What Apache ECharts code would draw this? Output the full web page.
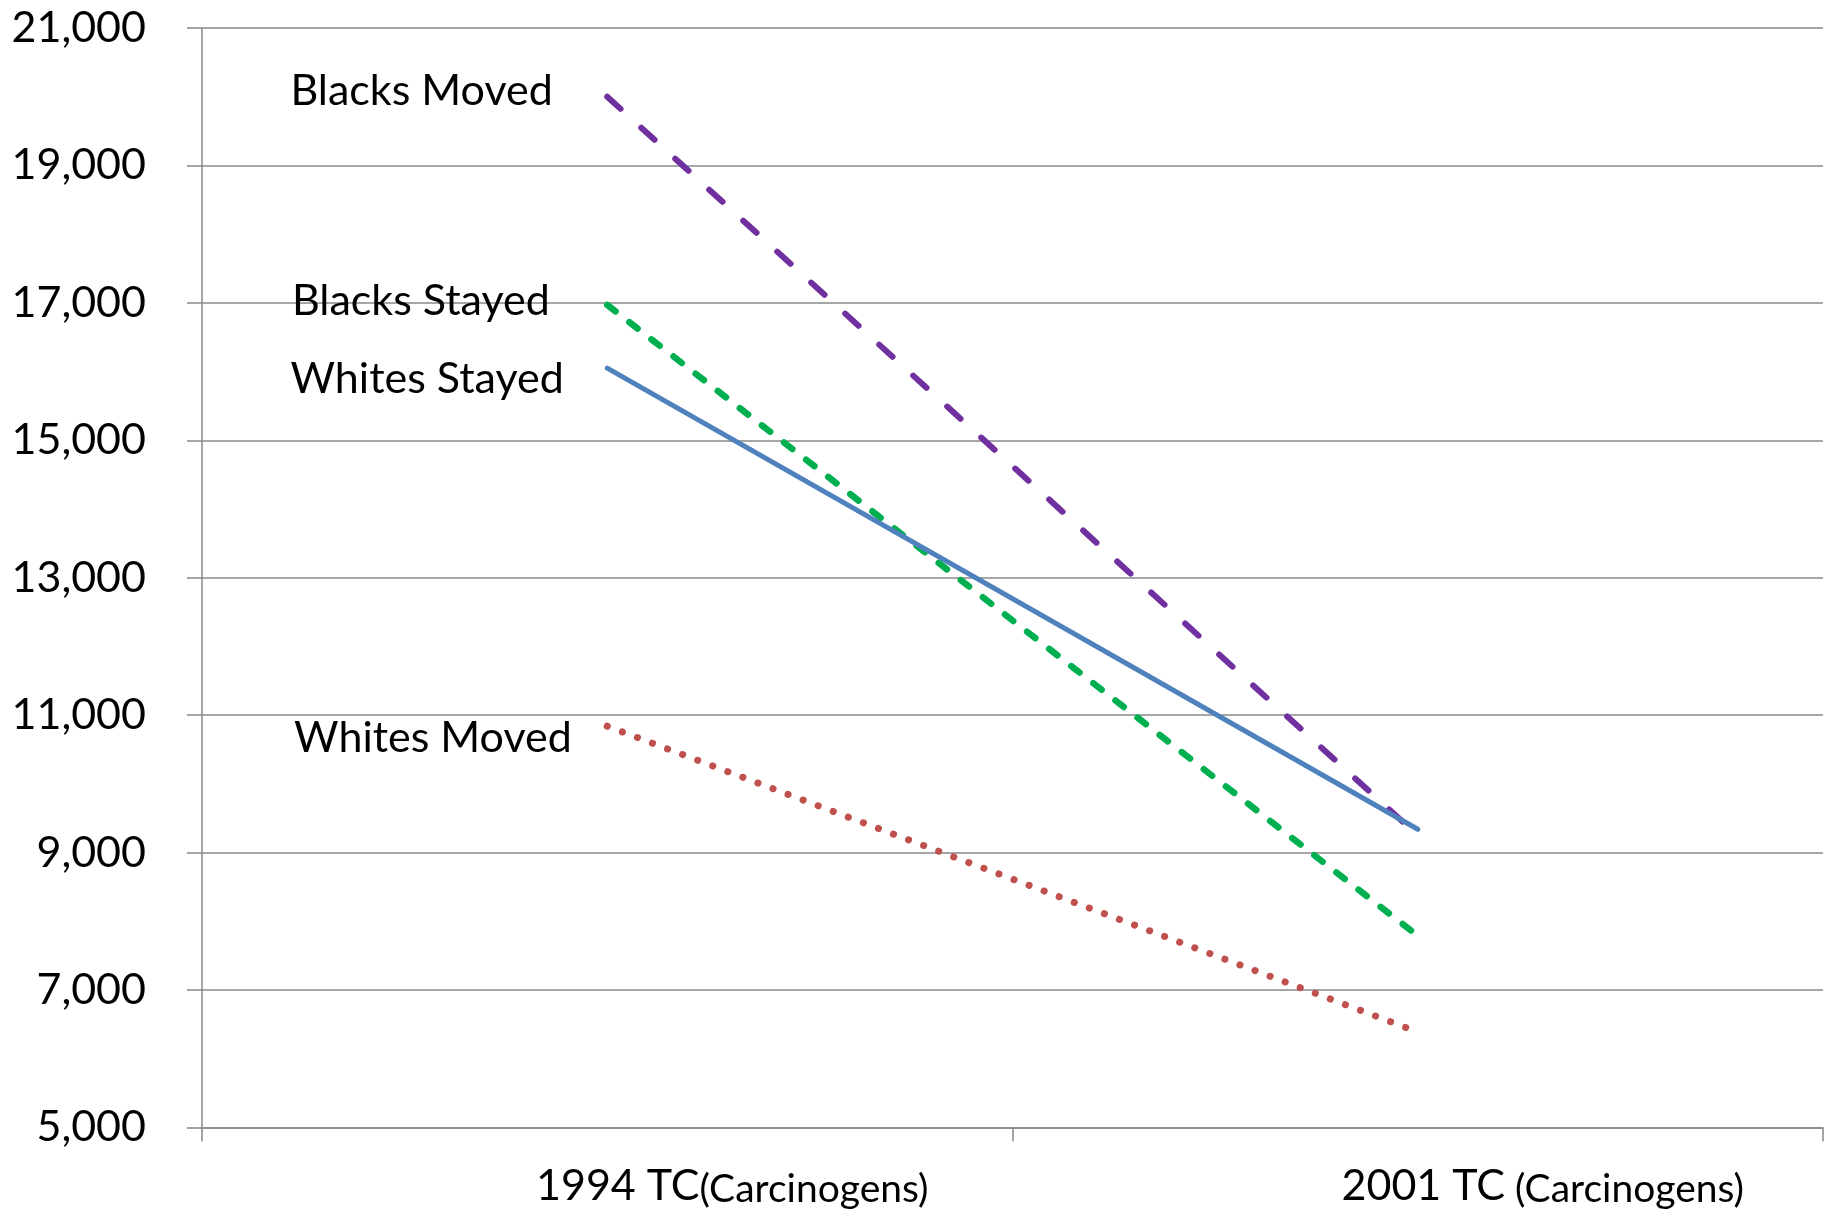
<!DOCTYPE html>
<html><head><meta charset="utf-8">
<script src="https://cdn.jsdelivr.net/npm/echarts@6/dist/echarts.min.js"></script>
<style>html,body{margin:0;padding:0;background:#fff}#c{width:1830px;height:1219px}</style>
</head><body><div id="c"></div>
<script>
var categories = ['1994 TC', '2001 TC'];
var categorySuffix = ['(Carcinogens)', ' (Carcinogens)'];
var blacksMoved = [20000, 9250];
var blacksStayed = [16970, 7790];
var whitesStayed = [16050, 9340];
var whitesMoved = [10840, 6390];
var yTicks = [5000, 7000, 9000, 11000, 13000, 15000, 17000, 19000, 21000];

var FONT = 'Lato';
function firstLabel(name, dist, dy) {
  return {show: true, position: 'left', distance: dist, offset: [0, dy],
          formatter: name, color: '#000', opacity: 1, fontFamily: FONT, fontSize: 43};
}
function mk(name, vals, color, width, type, cap, dist, dy) {
  return {
    name: name, type: 'line', symbol: 'circle', symbolSize: 1, showSymbol: true, silent: true,
    itemStyle: {color: color},
    lineStyle: {color: color, width: width, type: type, cap: cap},
    data: vals.map(function (v, i) {
      return i === 0 ? {value: v, label: firstLabel(name, dist, dy)} : {value: v, symbol: 'none'};
    }),
    label: {show: false},
    z: 3
  };
}
var chart = echarts.init(document.getElementById('c'), null, {renderer: 'canvas'});
chart.setOption({
  animation: false,
  grid: {left: 202, right: 7, top: 28, bottom: 91.5},
  xAxis: {
    type: 'category', data: categories, boundaryGap: true,
    axisLine: {show: true, lineStyle: {color: '#888', width: 1.5}},
    axisTick: {show: true, length: 14, alignWithLabel: false, lineStyle: {color: '#888', width: 1.5}},
    axisLabel: {
      margin: 36, padding: [0, 0, 0, 250],
      formatter: function (v, i) { return '{a|' + v + '}{b|' + categorySuffix[i] + '}'; },
      rich: {
        a: {fontFamily: FONT, fontSize: 43, color: '#000'},
        b: {fontFamily: FONT, fontSize: 39, color: '#000', padding: [6, 0, 0, 0]}
      }
    }
  },
  yAxis: {
    type: 'value', min: 5000, max: 21000, interval: 2000,
    axisLine: {show: true, lineStyle: {color: '#888', width: 1.5}},
    axisTick: {show: true, length: 15, lineStyle: {color: '#888', width: 1.5}},
    splitLine: {show: true, lineStyle: {color: '#888', width: 1.5}},
    axisLabel: {
      margin: 56, fontFamily: FONT, fontSize: 43, color: '#000',
      formatter: function (v) { return v.toLocaleString('en-US'); }
    }
  },
  series: [
    mk('Blacks Moved', blacksMoved, '#7030A0', 6, [18, 28], 'round', 54, -6),
    mk('Blacks Stayed', blacksStayed, '#00B050', 6.5, [10.5, 17.5], 'round', 57, -4),
    mk('Whites Stayed', whitesStayed, '#4F81BD', 5, 'solid', 'round', 43, 11),
    mk('Whites Moved', whitesMoved, '#C0504D', 7, [0.1, 16], 'round', 35, 12)
  ]
});
</script></body></html>
